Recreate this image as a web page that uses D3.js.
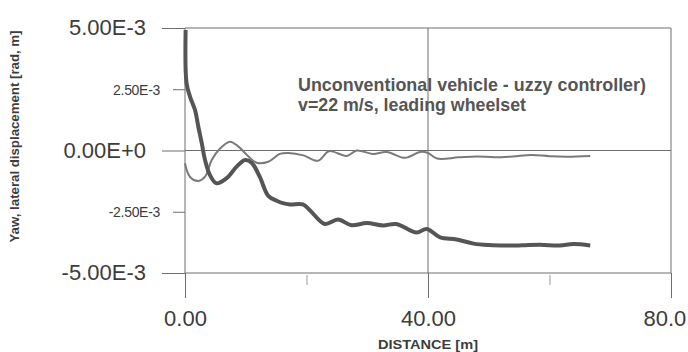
<!DOCTYPE html>
<html>
<head>
<meta charset="utf-8">
<script src="https://cdn.jsdelivr.net/npm/d3@7"></script>
<style>
  body { margin: 0; background: #fff; }
  svg { display: block; font-family: "Liberation Sans", Arial, sans-serif; }
</style>
</head>
<body>
<div id="chart"></div>
<script>
// x ticks (distance, m)
const xMajorTicks = [0, 40, 80];
const xMajorLabels = ["0.00", "40.00", "80.0"];
const xMinorTicks = [20, 60];
// y ticks and their printed labels
const yMajorTicks = [5e-3, 0, -5e-3];
const yMajorLabels = ["5.00E-3", "0.00E+0", "-5.00E-3"];
const yMinorTicks = [2.5e-3, -2.5e-3];
const yMinorLabels = ["2.50E-3", "-2.50E-3"];

// thick curve
const thickDist = [0.1, 0.25, 0.82, 1.65, 2.2, 2.75, 3.3, 4.1, 5.2, 6.9, 8.5, 9.9, 11.0, 12.3, 13.7, 15.1, 16.1, 17.3, 19.4, 20.6, 23.0, 25.2, 27.4, 29.9, 32.6, 34.8, 38.1, 39.8, 42.0, 44.7, 47.5, 50.0, 53.0, 55.5, 58.4, 61.7, 63.9, 66.7];
const thickVal  = [4.92e-3, 2.75e-3, 2.2e-3, 1.65e-3, 0.96e-3, 0.31e-3, -0.39e-3, -1.0e-3, -1.34e-3, -1.12e-3, -0.66e-3, -0.39e-3, -0.51e-3, -1.07e-3, -1.85e-3, -2.05e-3, -2.15e-3, -2.2e-3, -2.2e-3, -2.45e-3, -3.0e-3, -2.82e-3, -3.05e-3, -2.96e-3, -3.06e-3, -3.0e-3, -3.35e-3, -3.2e-3, -3.55e-3, -3.63e-3, -3.8e-3, -3.86e-3, -3.88e-3, -3.87e-3, -3.85e-3, -3.88e-3, -3.82e-3, -3.88e-3];

// thin curve
const thinDist = [0, 0.8, 2.2, 3.3, 4.4, 5.8, 7.4, 8.8, 10.2, 11.8, 13.7, 15.6, 17.0, 19.5, 21.9, 23.7, 26.6, 28.3, 30.9, 33.2, 36.2, 38.7, 40.0, 41.5, 45.0, 48.0, 51.0, 54.0, 57.0, 60.0, 63.0, 66.7];
const thinVal  = [-0.52e-3, -1.07e-3, -1.24e-3, -1.07e-3, -0.39e-3, 0.09e-3, 0.36e-3, 0.16e-3, -0.18e-3, -0.5e-3, -0.46e-3, -0.14e-3, -0.1e-3, -0.2e-3, -0.42e-3, -0.03e-3, -0.22e-3, 0.0, -0.14e-3, -0.06e-3, -0.3e-3, -0.06e-3, -0.1e-3, -0.33e-3, -0.28e-3, -0.24e-3, -0.28e-3, -0.24e-3, -0.18e-3, -0.23e-3, -0.25e-3, -0.22e-3];

const noteLines = ["Unconventional vehicle - uzzy controller)", "v=22 m/s, leading wheelset"];
const noteWidths = [348, 228];

const margin = { top: 28, right: 17, bottom: 79, left: 185 },
  width = 688 - margin.left - margin.right,
  height = 352 - margin.top - margin.bottom;

const svg = d3.select("#chart")
  .append("svg")
  .attr("width", 688)
  .attr("height", 352)
  .append("g")
  .attr("transform", `translate(${margin.left}, ${margin.top})`);

const x = d3.scaleLinear().domain([0, 80]).range([0, width]);
const y = d3.scaleLinear().domain([-5e-3, 5e-3]).range([height, 0]);

const gridColor = "#6e6e6e";
const textColor = "#3c3c3c";

// grid / frame
svg.append("g").selectAll("line")
  .data(yMajorTicks)
  .enter().append("line")
  .attr("x1", 0).attr("x2", width)
  .attr("y1", d => y(d)).attr("y2", d => y(d))
  .attr("stroke", gridColor).attr("stroke-width", 1);

svg.append("g").selectAll("line")
  .data(xMajorTicks)
  .enter().append("line")
  .attr("x1", d => x(d)).attr("x2", d => x(d))
  .attr("y1", 0).attr("y2", height)
  .attr("stroke", gridColor).attr("stroke-width", 1);

// x axis
const xAxis = svg.append("g")
  .attr("transform", `translate(0, ${height})`)
  .call(d3.axisBottom(x).tickValues(xMajorTicks).tickSize(25).tickPadding(12)
    .tickFormat((d, i) => xMajorLabels[i]));
xAxis.select(".domain").remove();
xAxis.selectAll("line").attr("stroke", gridColor);
xAxis.selectAll("text").attr("fill", textColor).style("font-size", "22px");
// last label sits at the right edge of the picture
xAxis.selectAll("text").filter(d => d === 80)
  .attr("text-anchor", "start").attr("x", -28);

const xMinor = svg.append("g")
  .attr("transform", `translate(0, ${height + 2})`)
  .call(d3.axisBottom(x).tickValues(xMinorTicks).tickSize(10).tickFormat(""));
xMinor.select(".domain").remove();
xMinor.selectAll("line").attr("stroke", "#999");

// y axis
const yAxis = svg.append("g")
  .call(d3.axisLeft(y).tickValues(yMajorTicks).tickSize(23).tickPadding(16)
    .tickFormat((d, i) => yMajorLabels[i]));
yAxis.select(".domain").remove();
yAxis.selectAll("line").attr("stroke", gridColor);
yAxis.selectAll("text").attr("fill", textColor).style("font-size", "22px").attr("dy", "0.3em");

const yMinor = svg.append("g")
  .call(d3.axisLeft(y).tickValues(yMinorTicks).tickSize(12).tickPadding(13)
    .tickFormat((d, i) => yMinorLabels[i]));
yMinor.select(".domain").remove();
yMinor.selectAll("line").attr("stroke", gridColor);
yMinor.selectAll("text").attr("fill", textColor).style("font-size", "14px")
  .style("letter-spacing", "-0.3px").attr("dy", "0.35em");

// axis titles
svg.append("text")
  .attr("transform", `translate(${15 - margin.left}, ${height / 2 - 14}) rotate(-90)`)
  .attr("text-anchor", "middle")
  .attr("dy", "0.35em")
  .attr("textLength", 212)
  .attr("lengthAdjust", "spacingAndGlyphs")
  .style("font-size", "12px")
  .style("font-weight", "bold")
  .attr("fill", textColor)
  .text("Yaw, lateral displacement [rad, m]");

svg.append("text")
  .attr("x", x(40))
  .attr("y", height + 76)
  .attr("text-anchor", "middle")
  .attr("textLength", 100)
  .attr("lengthAdjust", "spacingAndGlyphs")
  .style("font-size", "13px")
  .style("font-weight", "bold")
  .attr("fill", textColor)
  .text("DISTANCE [m]");

// curves
const line = d3.line()
  .x(d => x(d[0]))
  .y(d => y(d[1]))
  .curve(d3.curveCatmullRom.alpha(0.5));

svg.append("path")
  .datum(d3.zip(thinDist, thinVal))
  .attr("fill", "none")
  .attr("stroke", "#7a7a7a")
  .attr("stroke-width", 2)
  .attr("d", line);

svg.append("path")
  .datum(d3.zip(thickDist, thickVal))
  .attr("fill", "none")
  .attr("stroke", "#555")
  .attr("stroke-width", 4)
  .attr("stroke-linejoin", "round")
  .attr("d", line);

// annotation
svg.append("g").selectAll("text")
  .data(noteLines)
  .enter().append("text")
  .attr("x", 298 - margin.left)
  .attr("y", (d, i) => 91 - margin.top + i * 20)
  .attr("textLength", (d, i) => noteWidths[i])
  .attr("lengthAdjust", "spacingAndGlyphs")
  .style("font-size", "19px")
  .style("font-weight", "bold")
  .attr("fill", "#555")
  .text(d => d);
</script>
</body>
</html>
